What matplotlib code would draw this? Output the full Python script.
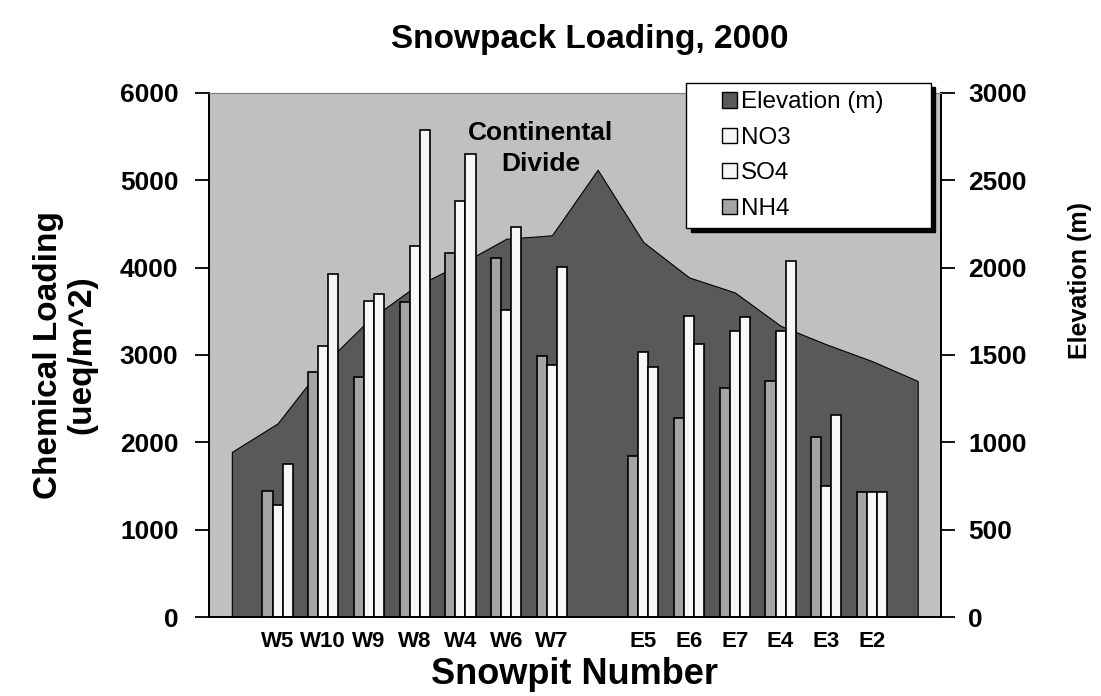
import numpy as np
import matplotlib
matplotlib.use("Agg")
import matplotlib.pyplot as plt
from matplotlib.patches import Patch, Rectangle
from matplotlib.legend_handler import HandlerPatch

plt.rcParams["font.family"] = ["Liberation Sans", "DejaVu Sans"]

# 16 category slots; the blank slots only carry the elevation profile
categories = ["", "W5", "W10", "W9", "W8", "W4", "W6", "W7", "",
              "E5", "E6", "E7", "E4", "E3", "E2", ""]
nan = np.nan
nh4 = [nan, 1440, 2800, 2750, 3610, 4170, 4110, 2990, nan,
       1840, 2280, 2620, 2700, 2060, 1430, nan]
no3 = [nan, 1280, 3100, 3620, 4250, 4760, 3520, 2890, nan,
       3030, 3450, 3280, 3280, 1500, 1430, nan]
so4 = [nan, 1750, 3930, 3700, 5580, 5300, 4470, 4010, nan,
       2860, 3120, 3430, 4080, 2310, 1430, nan]
elevation = [945, 1108, 1443, 1700, 1890, 2020, 2165, 2185, 2560,
             2146, 1944, 1858, 1667, 1561, 1465, 1351]

BG = "#c0c0c0"
DARK = "#595959"
NH4_C = "#a4a4a4"
WHITE = "#f7f7f7"


def square_at_right(legend, orig_handle, xdescent, ydescent, width, height, fontsize):
    # small square key pushed to the right end of the handle box (indented legend)
    s = 0.62 * fontsize
    return Rectangle((-xdescent + width - s, -ydescent + (height - s) / 2), s, s)


fig = plt.figure(figsize=(11.01, 6.96), dpi=100)
ax = fig.add_axes([0.1898, 0.1135, 0.6645, 0.7530])
ax2 = ax.twinx()

x = np.arange(len(categories))

# elevation area (secondary axis) behind the bars
ax2.fill_between(x, elevation, 0, color=DARK, edgecolor="black", linewidth=0.8)
ax2.set_ylim(0, 3000)
ax2.set_yticks(range(0, 3001, 500))
ax2.patch.set_facecolor(BG)
ax2.patch.set_visible(True)

ax.set_zorder(ax2.get_zorder() + 1)
ax.patch.set_visible(False)

w = 0.22
ax.bar(x - w, nh4, w, color=NH4_C, edgecolor="black", linewidth=1.2)
ax.bar(x, no3, w, color=WHITE, edgecolor="black", linewidth=1.2)
ax.bar(x + w, so4, w, color=WHITE, edgecolor="black", linewidth=1.2)

ax.set_xlim(-0.5, len(categories) - 0.5)
ax.set_ylim(0, 6000)
ax.set_yticks(range(0, 6001, 1000))
ax.set_xticks(x)
ax.set_xticklabels(categories, fontsize=16, fontweight="bold")
ax.tick_params(axis="x", length=0, pad=10)
ax.tick_params(axis="y", length=10, width=1.3, labelsize=19, pad=12)
ax2.tick_params(axis="y", length=10, width=1.3, labelsize=19, pad=10)
for lab in ax.get_yticklabels() + ax2.get_yticklabels():
    lab.set_fontweight("bold")

for a in (ax, ax2):
    for side in ("left", "right", "bottom"):
        a.spines[side].set_color("black")
        a.spines[side].set_linewidth(1.3)
    a.spines["top"].set_color("#808080")

ax.set_ylabel("Chemical Loading\n(ueq/m^2)", fontsize=24, fontweight="bold",
              linespacing=1.1)
ax.yaxis.set_label_coords(-0.153, 0.5)
ax2.set_ylabel("Elevation (m)", fontsize=18, fontweight="bold")
ax2.yaxis.set_label_coords(1.174, 0.643)
ax.set_xlabel("Snowpit Number", fontsize=26, fontweight="bold", labelpad=4)
fig.suptitle("Snowpack Loading, 2000", fontsize=24, fontweight="bold",
             x=0.536, y=0.965)

ax.text(6.75, 5360, "Continental\nDivide", ha="center", va="center",
        fontsize=19, fontweight="bold", linespacing=1.35)

handles = [Patch(facecolor=DARK, edgecolor="black", label="Elevation (m)"),
           Patch(facecolor=WHITE, edgecolor="black", label="NO3"),
           Patch(facecolor=WHITE, edgecolor="black", label="SO4"),
           Patch(facecolor=NH4_C, edgecolor="black", label="NH4")]
leg = ax.legend(handles=handles, loc="upper left", mode="expand",
                bbox_to_anchor=(0.6525, 0.70, 0.334, 0.319), fontsize=17.5,
                handler_map={Patch: HandlerPatch(patch_func=square_at_right)},
                handlelength=1.75, handleheight=0.7, handletextpad=0.15,
                labelspacing=0.55, borderpad=0.35, borderaxespad=0,
                fancybox=False, frameon=True, edgecolor="black",
                shadow={"ox": 3, "oy": -3, "facecolor": "black",
                        "edgecolor": "black", "alpha": 1})
leg.get_frame().set_linewidth(1.0)
leg.get_frame().set_facecolor("white")
leg.get_frame().set_alpha(1)

fig.savefig("out.png", dpi=100)
